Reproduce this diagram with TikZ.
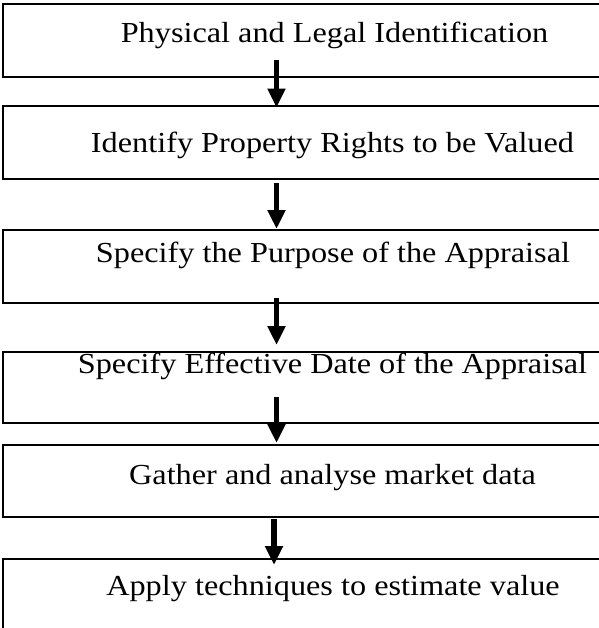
\documentclass[tikz,border=0pt]{standalone}
\usepackage{fontspec}
\usepackage{graphicx}
\setmainfont{Liberation Serif}
\usetikzlibrary{arrows.meta}
\newcommand{\steptext}[1]{\scalebox{1}[0.9]{#1}}
\begin{document}
\begin{tikzpicture}[x=0.75pt,y=-0.75pt,
  stepbox/.style={draw=black,line width=1.3pt,rectangle,minimum width=456pt,inner sep=0pt,anchor=north west},
  steplabel/.style={anchor=base,inner sep=0pt,font=\fontsize{24.2}{29}\selectfont},
  flowarrow/.style={line width=4.1pt,-{Triangle[width=12.75pt,length=14.25pt]}}]
\useasboundingbox (0,0) rectangle (599,628);
% boxes
\node[stepbox,minimum height=54.75pt] (b1) at (2,3) {};
\node[stepbox,minimum height=54.75pt] (b2) at (2,105) {};
\node[stepbox,minimum height=54.75pt] (b3) at (2,229) {};
\node[stepbox,minimum height=53.25pt] (b4) at (2,351) {};
\node[stepbox,minimum height=54pt] (b5) at (2,444) {};
\node[stepbox,minimum height=60pt] (b6) at (2,558) {};
% labels
\node[steplabel] (t1) at (334.5,42) {\steptext{Physical and Legal Identification}};
\node[steplabel] (t2) at (332.5,152) {\steptext{Identify Property Rights to be Valued}};
\node[steplabel] (t3) at (333,262) {\steptext{Specify the Purpose of the Appraisal}};
\node[steplabel] (t4) at (332.5,373) {\steptext{Specify Effective Date of the Appraisal}};
\node[steplabel] (t5) at (332.5,484) {\steptext{Gather and analyse market data}};
\node[steplabel] (t6) at (333,595) {\steptext{Apply techniques to estimate value}};
% arrow starts
\coordinate (s1) at (276.5,60);
\coordinate (s2) at (276.5,183);
\coordinate (s3) at (276.5,298);
\coordinate (s4) at (276.5,397);
\coordinate (s5) at (274,519);
% arrows
\draw[flowarrow] (s1) -- ([yshift=-2pt]b2.north -| s1);
\draw[flowarrow] (s2) -- (b3.north -| s2);
\draw[flowarrow] (s3) -- ([yshift=4.5pt]b4.north -| s3);
\draw[flowarrow] (s4) -- ([yshift=0.75pt]b5.north -| s4);
\draw[flowarrow] (s5) -- ([yshift=-5.25pt]b6.north -| s5);
\end{tikzpicture}
\end{document}
